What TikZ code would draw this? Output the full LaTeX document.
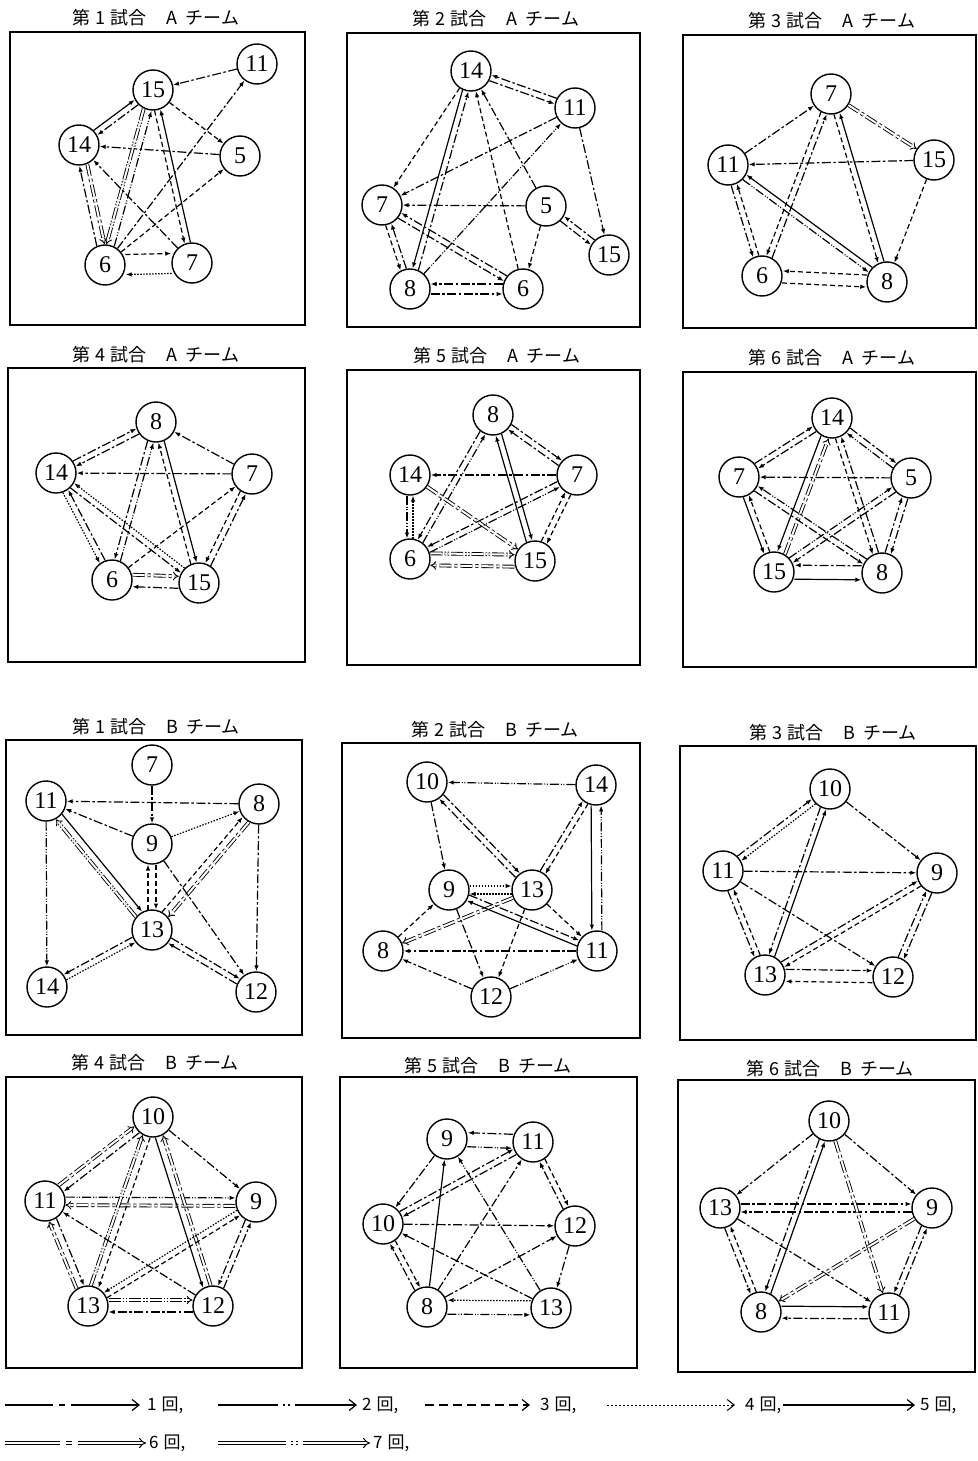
\documentclass[tikz,border=0pt]{standalone}
\usepackage{fontspec}
\setmainfont{Liberation Serif}
\newfontfamily\jpf{Noto Sans CJK JP}
\usetikzlibrary{arrows.meta,calc}
\tikzset{
 nd/.style={circle,draw,fill=white,line width=1.4pt,minimum size=40pt,inner sep=0pt,font=\fontsize{24}{24}\selectfont},
 panel/.style={draw,line width=1.6pt},
 ttl/.style={font=\jpf\fontsize{18}{18}\selectfont,inner sep=0pt},
 lgt/.style={font=\jpf\fontsize{17}{17}\selectfont,inner sep=0pt,anchor=west},
 ar/.style={line width=1.2pt,-{Latex[length=6pt,width=4.5pt]}},
 c1/.style={ar,dash pattern=on 9pt off 2.5pt on 2.5pt off 2.5pt},
 c2/.style={ar,dash pattern=on 9pt off 2pt on 1pt off 1.5pt on 1pt off 2pt},
 c3/.style={ar,dash pattern=on 5pt off 3pt},
 c4/.style={ar,dash pattern=on 1.5pt off 1.5pt},
 c5/.style={ar},
 c6/.style={line width=0.9pt,double,double distance=2pt,-{Implies},dash pattern=on 12pt off 3pt on 3pt off 3pt},
 c7/.style={line width=0.9pt,double,double distance=2pt,-{Implies},dash pattern=on 12pt off 2pt on 1.5pt off 1.5pt on 1.5pt off 2pt},
 lar/.style={line width=1.2pt,-{Straight Barb[length=7pt,width=11pt]}},
 ldar/.style={line width=1pt,double,double distance=2.5pt,-{Implies}},
}
\newcommand\edg[4][3pt]{%
  \path ($(#3)!#1!-90:(#4)$) coordinate (q1) ($(#4)!#1!90:(#3)$) coordinate (q2);
  \draw[#2] ($(q1)!20.5pt!(q2)$) -- ($(q2)!20.5pt!(q1)$);}
\newcommand\esg[3]{\draw[#1] (#2) -- (#3);}
\newcommand\ttx[2]{第\hspace{5pt}#1\hspace{5pt}試合\hspace{20pt}#2\hspace{8pt}チーム}
\begin{document}
\begin{tikzpicture}[x=1pt,y=-1pt]
\useasboundingbox (0,0) rectangle (977,1461);
% ---------- panel boxes ----------
\draw[panel] (10,32) rectangle (305,325);
\draw[panel] (347,33) rectangle (640,327);
\draw[panel] (683,35) rectangle (976,328);
\draw[panel] (8,368) rectangle (305,662);
\draw[panel] (347,370) rectangle (640,665);
\draw[panel] (683,372) rectangle (976,667);
\draw[panel] (6,740) rectangle (302,1035);
\draw[panel] (342,743) rectangle (640,1038);
\draw[panel] (680,746) rectangle (976,1040);
\draw[panel] (6,1077) rectangle (302,1368);
\draw[panel] (340,1077) rectangle (637,1368);
\draw[panel] (678,1080) rectangle (975,1372);
% ---------- titles ----------
\node[ttl] (t1) at (156,18) {\ttx{1}{A}};
\node[ttl] (t2) at (496,19) {\ttx{2}{A}};
\node[ttl] (t3) at (832,21) {\ttx{3}{A}};
\node[ttl] (t4) at (156,355) {\ttx{4}{A}};
\node[ttl] (t5) at (497,356) {\ttx{5}{A}};
\node[ttl] (t6) at (832,358) {\ttx{6}{A}};
\node[ttl] (t7) at (156,727) {\ttx{1}{B}};
\node[ttl] (t8) at (495,730) {\ttx{2}{B}};
\node[ttl] (t9) at (833,733) {\ttx{3}{B}};
\node[ttl] (t10) at (155,1063) {\ttx{4}{B}};
\node[ttl] (t11) at (488,1066) {\ttx{5}{B}};
\node[ttl] (t12) at (830,1069) {\ttx{6}{B}};
% ---------- A1 ----------
\node[nd] (a1n11) at (257,64) {11};
\node[nd] (a1n15) at (153,90) {15};
\node[nd] (a1n14) at (79,145) {14};
\node[nd] (a1n5) at (240,156) {5};
\node[nd] (a1n6) at (105,265) {6};
\node[nd] (a1n7) at (192,263) {7};
\esg{c1}{a1n11}{a1n15}
\edg[-3pt]{c5}{a1n14}{a1n15} \edg[-3pt]{c1}{a1n15}{a1n14}
\esg{c3}{a1n15}{a1n5}
\esg{c1}{a1n5}{a1n14}
\esg{c1}{a1n6}{a1n11}
\esg{c3}{a1n6}{a1n5}
\edg[-4pt]{c6}{a1n14}{a1n6} \edg[-4pt]{c1}{a1n6}{a1n14}
\edg[4pt]{c7}{a1n15}{a1n6} \edg[4pt]{c2}{a1n6}{a1n15}
\edg{c3}{a1n15}{a1n7} \edg{c5}{a1n7}{a1n15}
\esg{c1}{a1n7}{a1n14}
\edg[-10pt]{c3}{a1n6}{a1n7} \edg[-10pt]{c4}{a1n7}{a1n6}
% ---------- A2 ----------
\node[nd] (a2n14) at (471,71) {14};
\node[nd] (a2n11) at (575,108) {11};
\node[nd] (a2n7) at (382,205) {7};
\node[nd] (a2n5) at (546,206) {5};
\node[nd] (a2n15) at (609,255) {15};
\node[nd] (a2n8) at (410,289) {8};
\node[nd] (a2n6) at (523,289) {6};
\edg{c1}{a2n11}{a2n14} \edg{c1}{a2n14}{a2n11}
\esg{c3}{a2n14}{a2n7}
\esg{c1}{a2n11}{a2n7}
\esg{c2}{a2n8}{a2n11}
\esg{c1}{a2n11}{a2n15}
\edg{c1}{a2n8}{a2n14} \edg{c5}{a2n14}{a2n8}
\esg{c3}{a2n6}{a2n14}
\esg{c1}{a2n5}{a2n14}
\esg{c1}{a2n5}{a2n7}
\edg{c1}{a2n5}{a2n15} \edg{c1}{a2n15}{a2n5}
\esg{c3}{a2n5}{a2n6}
\edg{c1}{a2n7}{a2n6} \edg{c1}{a2n6}{a2n7}
\edg{c1}{a2n8}{a2n7} \edg{c3}{a2n7}{a2n8}
\edg[5pt]{c1}{a2n6}{a2n8} \edg[5pt]{c1}{a2n8}{a2n6}
% ---------- A3 ----------
\node[nd] (a3n7) at (831,94) {7};
\node[nd] (a3n11) at (728,165) {11};
\node[nd] (a3n15) at (934,160) {15};
\node[nd] (a3n6) at (762,276) {6};
\node[nd] (a3n8) at (887,282) {8};
\esg{c1}{a3n11}{a3n7}
\esg{c6}{a3n7}{a3n15}
\esg{c1}{a3n15}{a3n11}
\esg{c3}{a3n15}{a3n8}
\edg{c3}{a3n7}{a3n6} \edg{c1}{a3n6}{a3n7}
\edg{c3}{a3n7}{a3n8} \edg{c5}{a3n8}{a3n7}
\edg{c2}{a3n11}{a3n8} \edg{c5}{a3n8}{a3n11}
\edg{c1}{a3n11}{a3n6} \edg{c3}{a3n6}{a3n11}
\edg[6pt]{c3}{a3n8}{a3n6} \edg[6pt]{c3}{a3n6}{a3n8}
% ---------- A4 ----------
\node[nd] (a4n8) at (156,422) {8};
\node[nd] (a4n14) at (56,473) {14};
\node[nd] (a4n7) at (252,474) {7};
\node[nd] (a4n6) at (112,580) {6};
\node[nd] (a4n15) at (199,583) {15};
\edg[-3pt]{c1}{a4n14}{a4n8} \edg[-3pt]{c1}{a4n8}{a4n14}
\esg{c1}{a4n7}{a4n8}
\esg{c1}{a4n7}{a4n14}
\edg{c4}{a4n14}{a4n6} \edg{c1}{a4n6}{a4n14}
\edg{c1}{a4n14}{a4n15} \edg{c4}{a4n15}{a4n14}
\edg{c1}{a4n8}{a4n6} \edg{c2}{a4n6}{a4n8}
\edg[-3pt]{c5}{a4n8}{a4n15} \edg[-3pt]{c3}{a4n15}{a4n8}
\esg{c3}{a4n6}{a4n7}
\edg{c1}{a4n15}{a4n7} \edg{c3}{a4n7}{a4n15}
\edg[-6pt]{c6}{a4n6}{a4n15} \edg[-6pt]{c1}{a4n15}{a4n6}
% ---------- A5 ----------
\node[nd] (a5n8) at (493,415) {8};
\node[nd] (a5n14) at (410,475) {14};
\node[nd] (a5n7) at (577,475) {7};
\node[nd] (a5n6) at (410,559) {6};
\node[nd] (a5n15) at (535,561) {15};
\edg[-3pt]{c1}{a5n8}{a5n7} \edg[-3pt]{c1}{a5n7}{a5n8}
\esg{c1}{a5n7}{a5n14}
\edg{c2}{a5n14}{a5n6} \edg{c4}{a5n6}{a5n14}
\edg{c1}{a5n8}{a5n6} \edg{c2}{a5n6}{a5n8}
\edg[-3pt]{c5}{a5n8}{a5n15} \edg[-3pt]{c5}{a5n15}{a5n8}
\esg{c6}{a5n14}{a5n15}
\edg{c1}{a5n7}{a5n6} \edg{c2}{a5n6}{a5n7}
\edg[-3pt]{c3}{a5n15}{a5n7} \edg[-3pt]{c3}{a5n7}{a5n15}
\edg[-6pt]{c7}{a5n6}{a5n15} \edg[-6pt]{c6}{a5n15}{a5n6}
% ---------- A6 ----------
\node[nd] (a6n14) at (832,418) {14};
\node[nd] (a6n7) at (739,477) {7};
\node[nd] (a6n5) at (911,478) {5};
\node[nd] (a6n15) at (774,572) {15};
\node[nd] (a6n8) at (882,573) {8};
\edg[-3pt]{c1}{a6n7}{a6n14} \edg[-3pt]{c1}{a6n14}{a6n7}
\edg[-3pt]{c1}{a6n14}{a6n5} \edg[-3pt]{c2}{a6n5}{a6n14}
\esg{c1}{a6n5}{a6n7}
\edg[4pt]{c6}{a6n15}{a6n14} \edg[4pt]{c5}{a6n14}{a6n15}
\edg{c3}{a6n14}{a6n8} \edg{c1}{a6n8}{a6n14}
\edg{c5}{a6n7}{a6n15} \edg{c3}{a6n15}{a6n7}
\edg{c1}{a6n7}{a6n8} \edg{c2}{a6n8}{a6n7}
\edg[-3pt]{c1}{a6n5}{a6n15} \edg[-3pt]{c2}{a6n15}{a6n5}
\edg[-3pt]{c1}{a6n8}{a6n5} \edg[-3pt]{c1}{a6n5}{a6n8}
\edg[7pt]{c1}{a6n8}{a6n15} \edg[7pt]{c5}{a6n15}{a6n8}
% ---------- B1 ----------
\node[nd] (b1n7) at (152,765) {7};
\node[nd] (b1n11) at (46,801) {11};
\node[nd] (b1n8) at (259,804) {8};
\node[nd] (b1n9) at (152,844) {9};
\node[nd] (b1n13) at (152,930) {13};
\node[nd] (b1n14) at (47,987) {14};
\node[nd] (b1n12) at (256,992) {12};
\esg{c1}{b1n7}{b1n9}
\esg{c1}{b1n8}{b1n11}
\esg{c1}{b1n9}{b1n11}
\esg{c4}{b1n9}{b1n8}
\esg{c2}{b1n11}{b1n14}
\esg{c1}{b1n8}{b1n12}
\edg[-4pt]{c5}{b1n11}{b1n13} \edg[-4pt]{c7}{b1n13}{b1n11}
\edg[-4pt]{c3}{b1n9}{b1n13} \edg[-4pt]{c3}{b1n13}{b1n9}
\edg[-4pt]{c6}{b1n8}{b1n13} \edg[-4pt]{c3}{b1n13}{b1n8}
\esg{c1}{b1n9}{b1n12}
\edg{c1}{b1n13}{b1n14} \edg{c4}{b1n14}{b1n13}
\edg[-3pt]{c1}{b1n13}{b1n12} \edg[-3pt]{c1}{b1n12}{b1n13}
% ---------- B2 ----------
\node[nd] (b2n10) at (427,782) {10};
\node[nd] (b2n14) at (596,785) {14};
\node[nd] (b2n9) at (449,890) {9};
\node[nd] (b2n13) at (532,890) {13};
\node[nd] (b2n8) at (383,951) {8};
\node[nd] (b2n11) at (597,951) {11};
\node[nd] (b2n12) at (491,997) {12};
\esg{c2}{b2n14}{b2n10}
\esg{c1}{b2n10}{b2n9}
\edg[-3pt]{c1}{b2n10}{b2n13} \edg[-3pt]{c1}{b2n13}{b2n10}
\edg[-3pt]{c1}{b2n13}{b2n14} \edg[-3pt]{c3}{b2n14}{b2n13}
\edg[5pt]{c5}{b2n14}{b2n11} \edg[5pt]{c2}{b2n11}{b2n14}
\edg[-4pt]{c4}{b2n9}{b2n13} \edg[-4pt]{c4}{b2n13}{b2n9}
\esg{c3}{b2n8}{b2n9}
\esg{c6}{b2n13}{b2n8}
\edg[-3pt]{c5}{b2n11}{b2n9} \edg[-3pt]{c1}{b2n9}{b2n11}
\esg{c3}{b2n13}{b2n11}
\esg{c1}{b2n11}{b2n8}
\esg{c1}{b2n9}{b2n12}
\esg{c3}{b2n13}{b2n12}
\esg{c1}{b2n12}{b2n8}
\esg{c2}{b2n12}{b2n11}
% ---------- B3 ----------
\node[nd] (b3n10) at (830,789) {10};
\node[nd] (b3n11) at (723,871) {11};
\node[nd] (b3n9) at (937,873) {9};
\node[nd] (b3n13) at (765,975) {13};
\node[nd] (b3n12) at (893,977) {12};
\edg[-3pt]{c1}{b3n11}{b3n10} \edg[-3pt]{c4}{b3n10}{b3n11}
\esg{c1}{b3n10}{b3n9}
\esg{c1}{b3n11}{b3n9}
\esg{c1}{b3n11}{b3n12}
\edg{c1}{b3n11}{b3n13} \edg{c3}{b3n13}{b3n11}
\edg{c1}{b3n10}{b3n13} \edg{c5}{b3n13}{b3n10}
\edg[-3pt]{c1}{b3n13}{b3n9} \edg[-3pt]{c3}{b3n9}{b3n13}
\edg[-3pt]{c1}{b3n12}{b3n9} \edg[-3pt]{c1}{b3n9}{b3n12}
\edg[-6pt]{c1}{b3n13}{b3n12} \edg[-6pt]{c3}{b3n12}{b3n13}
% ---------- B4 ----------
\node[nd] (b4n10) at (153,1117) {10};
\node[nd] (b4n11) at (45,1201) {11};
\node[nd] (b4n9) at (256,1202) {9};
\node[nd] (b4n13) at (88,1306) {13};
\node[nd] (b4n12) at (213,1306) {12};
\edg[-4pt]{c6}{b4n11}{b4n10} \edg[-4pt]{c1}{b4n10}{b4n11}
\esg{c1}{b4n10}{b4n9}
\edg[-4pt]{c2}{b4n11}{b4n9} \edg[-4pt]{c6}{b4n9}{b4n11}
\edg[-4pt]{c6}{b4n13}{b4n11} \edg[-4pt]{c1}{b4n11}{b4n13}
\edg[-4pt]{c7}{b4n13}{b4n10} \edg[-4pt]{c3}{b4n10}{b4n13}
\edg[4pt]{c5}{b4n10}{b4n12} \edg[4pt]{c6}{b4n12}{b4n10}
\esg{c1}{b4n12}{b4n11}
\edg{c3}{b4n13}{b4n9} \edg{c4}{b4n9}{b4n13}
\edg{c1}{b4n9}{b4n12} \edg{c1}{b4n12}{b4n9}
\edg[-6pt]{c7}{b4n13}{b4n12} \edg[-6pt]{c1}{b4n12}{b4n13}
% ---------- B5 ----------
\node[nd] (b5n9) at (447,1139) {9};
\node[nd] (b5n11) at (533,1142) {11};
\node[nd] (b5n10) at (383,1224) {10};
\node[nd] (b5n12) at (575,1226) {12};
\node[nd] (b5n8) at (427,1307) {8};
\node[nd] (b5n13) at (551,1308) {13};
\edg[7pt]{c1}{b5n11}{b5n9} \edg[7pt]{c2}{b5n9}{b5n11}
\esg{c1}{b5n9}{b5n10}
\edg[-3pt]{c1}{b5n10}{b5n11} \edg[-3pt]{c1}{b5n11}{b5n10}
\edg[-3pt]{c3}{b5n11}{b5n12} \edg[-3pt]{c1}{b5n12}{b5n11}
\esg{c1}{b5n10}{b5n12}
\edg[-3pt]{c3}{b5n10}{b5n8} \edg[-3pt]{c1}{b5n8}{b5n10}
\esg{c5}{b5n8}{b5n9}
\esg{c1}{b5n8}{b5n11}
\esg{c2}{b5n13}{b5n9}
\esg{c1}{b5n8}{b5n12}
\esg{c1}{b5n13}{b5n10}
\esg{c1}{b5n12}{b5n13}
\edg[7pt]{c4}{b5n13}{b5n8} \edg[7pt]{c2}{b5n8}{b5n13}
% ---------- B6 ----------
\node[nd] (b6n10) at (829,1121) {10};
\node[nd] (b6n13) at (720,1208) {13};
\node[nd] (b6n9) at (932,1208) {9};
\node[nd] (b6n8) at (761,1312) {8};
\node[nd] (b6n11) at (889,1313) {11};
\esg{c1}{b6n10}{b6n13}
\esg{c1}{b6n10}{b6n9}
\edg[-4pt]{c1}{b6n13}{b6n9} \edg[-4pt]{c1}{b6n9}{b6n13}
\edg{c1}{b6n10}{b6n8} \edg{c5}{b6n8}{b6n10}
\esg{c6}{b6n10}{b6n11}
\edg{c1}{b6n13}{b6n8} \edg{c3}{b6n8}{b6n13}
\esg{c1}{b6n13}{b6n11}
\esg{c6}{b6n9}{b6n8}
\edg{c1}{b6n9}{b6n11} \edg{c1}{b6n11}{b6n9}
\edg[-6pt]{c5}{b6n8}{b6n11} \edg[-6pt]{c1}{b6n11}{b6n8}
% ---------- legend ----------
\coordinate (l1a) at (5,1405); \coordinate (l1b) at (140,1405);
\coordinate (l2a) at (218,1405); \coordinate (l2b) at (357,1405);
\coordinate (l3a) at (425,1405); \coordinate (l3b) at (530,1405);
\coordinate (l4a) at (607,1405); \coordinate (l4b) at (735,1405);
\coordinate (l5a) at (783,1405); \coordinate (l5b) at (915,1405);
\coordinate (l6a) at (5,1443); \coordinate (l6b) at (146,1443);
\coordinate (l7a) at (218,1443); \coordinate (l7b) at (370,1443);
\draw[lar,dash pattern=on 48pt off 6pt on 6pt off 6pt on 200pt off 1pt] (l1a) -- (l1b);
\draw[lar,dash pattern=on 60pt off 5pt on 2pt off 3pt on 2pt off 5pt on 200pt off 1pt] (l2a) -- (l2b);
\draw[lar,dash pattern=on 9pt off 5pt] (l3a) -- (l3b);
\draw[lar,line width=1pt,dash pattern=on 2pt off 2pt] (l4a) -- (l4b);
\draw[lar] (l5a) -- (l5b);
\draw[ldar,dash pattern=on 55pt off 6pt on 6pt off 6pt on 200pt off 1pt] (l6a) -- (l6b);
\draw[ldar,dash pattern=on 68pt off 5pt on 2pt off 3pt on 2pt off 5pt on 200pt off 1pt] (l7a) -- (l7b);
\node[lgt] (g1) at (147,1405) {1\hspace{5pt}回,};
\node[lgt] (g2) at (362,1405) {2\hspace{5pt}回,};
\node[lgt] (g3) at (540,1405) {3\hspace{5pt}回,};
\node[lgt] (g4) at (745,1405) {4\hspace{5pt}回,};
\node[lgt] (g5) at (920,1405) {5\hspace{5pt}回,};
\node[lgt] (g6) at (149,1443) {6\hspace{5pt}回,};
\node[lgt] (g7) at (373,1443) {7\hspace{5pt}回,};
\end{tikzpicture}
\end{document}
